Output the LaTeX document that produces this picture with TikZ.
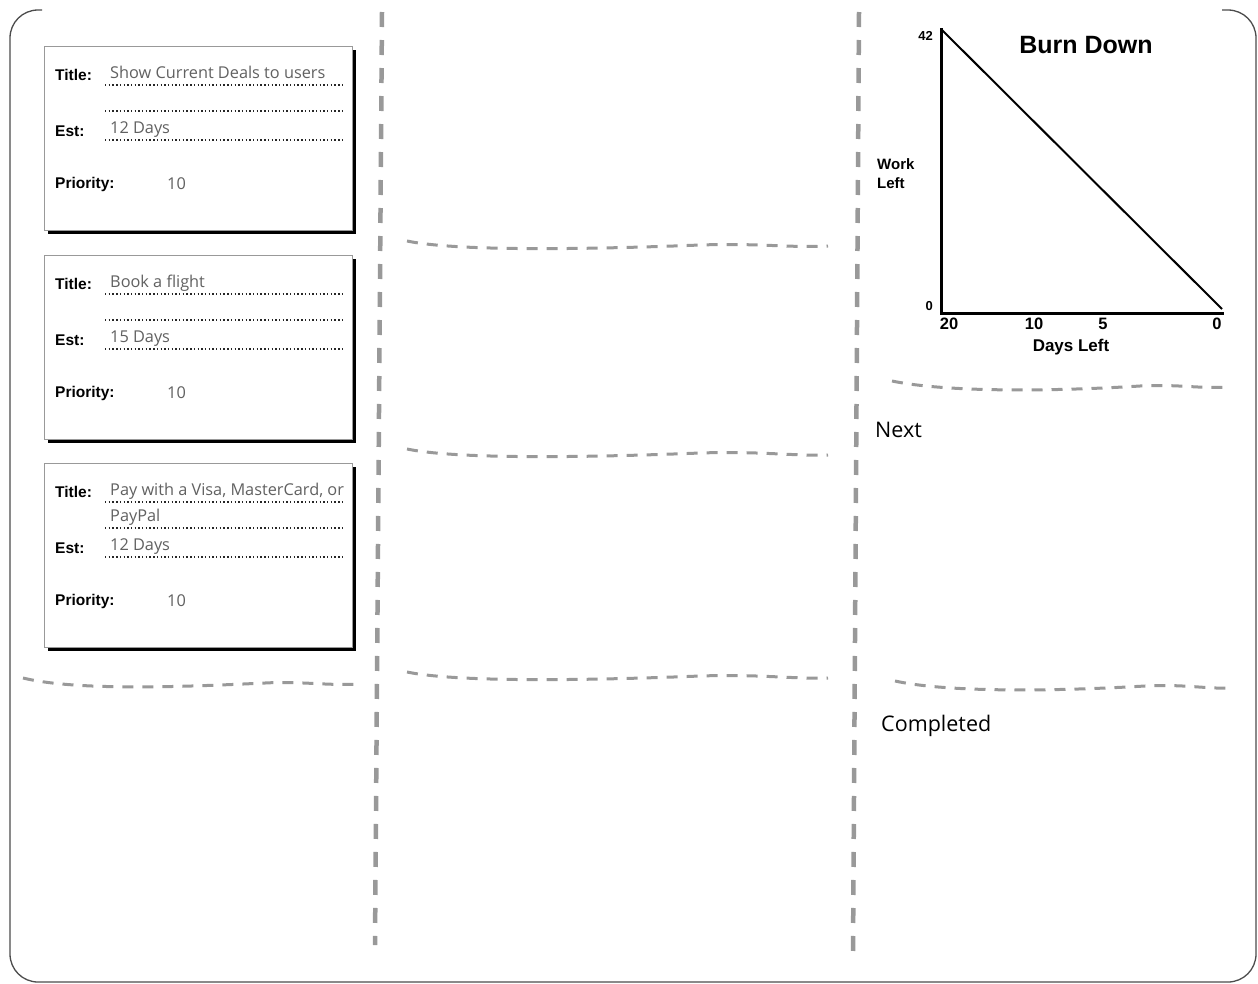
\documentclass[tikz,border=0pt]{standalone}
\usepackage{fontspec}
\setmainfont{Liberation Sans}
\newfontfamily\handfont{Open Sans}
\usetikzlibrary{shadows,positioning}

\begin{document}
\begin{tikzpicture}[x=1pt,y=-1pt,
  card/.style={rectangle, draw=black!40, line width=1.2pt, fill=white,
               minimum width=308pt, minimum height=184pt, anchor=north west,
               drop shadow={shadow xshift=3.5pt, shadow yshift=-3.5pt, fill=black, opacity=1}},
  field/.style={font=\fontsize{15.5}{17}\selectfont\bfseries, anchor=base west, inner sep=0pt},
  entry/.style={font=\handfont\fontsize{16.3}{20}\selectfont, text=black!62, anchor=base west, inner sep=0pt},
  ruled/.style={black!85, line width=1.4pt, dash pattern=on 1.4pt off 2.3pt},
  lane/.style={draw=black!40, line width=4.5pt, dash pattern=on 15pt off 13pt},
  split/.style={draw=black!40, line width=3pt, dash pattern=on 11pt off 9pt},
  axis/.style={line width=3pt, line cap=rect},
  tick/.style={font=\fontsize{16.5}{19}\selectfont\bfseries, inner sep=0pt},
  lbl/.style={font=\handfont\fontsize{21.5}{25}\selectfont, anchor=west, inner sep=0pt},
]
\useasboundingbox (0,0) rectangle (1258,983);

% board outline (top edge left open)
\draw[black!70, line width=1.3pt, rounded corners=28pt]
  (42,10) -- (10,10) -- (10,982) -- (1256,982) -- (1256,10) -- (1222,10);

% lanes
\draw[lane] (382,12) -- (375,945);
\draw[lane] (859,12) -- (853,953);

% row splits
\draw[split] (23,678) .. controls (80,692) and (200,686) .. (265,683)
  .. controls (300,681) and (330,686) .. (360,684);
\draw[split] (407,241) .. controls (460,252) and (600,249) .. (700,245)
  .. controls (760,243) and (790,248) .. (828,246);
\draw[split] (407,449) .. controls (460,460) and (600,457) .. (700,453)
  .. controls (760,451) and (790,456) .. (828,455);
\draw[split] (407,672) .. controls (460,683) and (600,680) .. (700,676)
  .. controls (760,674) and (790,679) .. (828,678);
\draw[split] (892,381) .. controls (950,393) and (1060,391) .. (1140,386)
  .. controls (1180,384) and (1200,389) .. (1229,387);
\draw[split] (895,681) .. controls (950,693) and (1060,691) .. (1145,686)
  .. controls (1185,684) and (1205,689) .. (1231,688);

% Card 1
\node[card] (c1) at (44,46) {};
\node[field] (c1t) at (55,80) {Title:};
\node[entry] (c1tv) at (110,78) {Show Current Deals to users};
\draw[ruled] (105,85) -- (344,85);
\draw[ruled] (105,111) -- (344,111);
\node[field] (c1e) at (55,136) {Est:};
\node[entry] (c1ev) at (110,133) {12 Days};
\draw[ruled] (105,140) -- (344,140);
\node[field] (c1p) at (55,188) {Priority:};
\node[entry] (c1pv) at (167,189) {10};

% Card 2
\node[card] (c2) at (44,255) {};
\node[field] (c2t) at (55,289) {Title:};
\node[entry] (c2tv) at (110,287) {Book a flight};
\draw[ruled] (105,294) -- (344,294);
\draw[ruled] (105,320) -- (344,320);
\node[field] (c2e) at (55,345) {Est:};
\node[entry] (c2ev) at (110,342) {15 Days};
\draw[ruled] (105,349) -- (344,349);
\node[field] (c2p) at (55,397) {Priority:};
\node[entry] (c2pv) at (167,398) {10};

% Card 3
\node[card] (c3) at (44,463) {};
\node[field] (c3t) at (55,497) {Title:};
\node[entry] (c3tv) at (110,495) {Pay with a Visa, MasterCard, or};
\draw[ruled] (105,502) -- (344,502);
\node[entry] (c3tw) at (110,521) {PayPal};
\draw[ruled] (105,528) -- (344,528);
\node[field] (c3e) at (55,553) {Est:};
\node[entry] (c3ev) at (110,550) {12 Days};
\draw[ruled] (105,557) -- (344,557);
\node[field] (c3p) at (55,605) {Priority:};
\node[entry] (c3pv) at (167,606) {10};

% Burn down chart
\coordinate (top) at (941,29);
\coordinate (orig) at (941,313);
\coordinate (end) at (1222,313);
\draw[axis] (top) -- (orig) -- (end);
\draw[line width=2pt] (top) -- (1222,309);
\node[font=\fontsize{25}{29}\selectfont\bfseries, inner sep=0pt] (title) at (1086,45) {Burn Down};
\node[font=\fontsize{13}{15}\selectfont\bfseries, anchor=east, inner sep=0pt] (ymax) at (933,36) {42};
\node[font=\fontsize{13}{15}\selectfont\bfseries, anchor=east, inner sep=0pt] (ymin) at (933,306) {0};
\node[font=\fontsize{15}{19}\selectfont\bfseries, align=left, anchor=west, inner sep=0pt] (ylab) at (877,174) {Work\\Left};
\node[tick] (x20) at (949,324) {20};
\node[tick] (x10) at (1034,324) {10};
\node[tick] (x5) at (1103,324) {5};
\node[tick] (x0) at (1217,324) {0};
\node[font=\fontsize{17}{20}\selectfont\bfseries, inner sep=0pt] (xlab) at (1071,347) {Days Left};

% row labels
\node[lbl] (next) at (875,430) {Next};
\node[lbl] (done) at (881,726) {Completed};
\end{tikzpicture}
\end{document}
